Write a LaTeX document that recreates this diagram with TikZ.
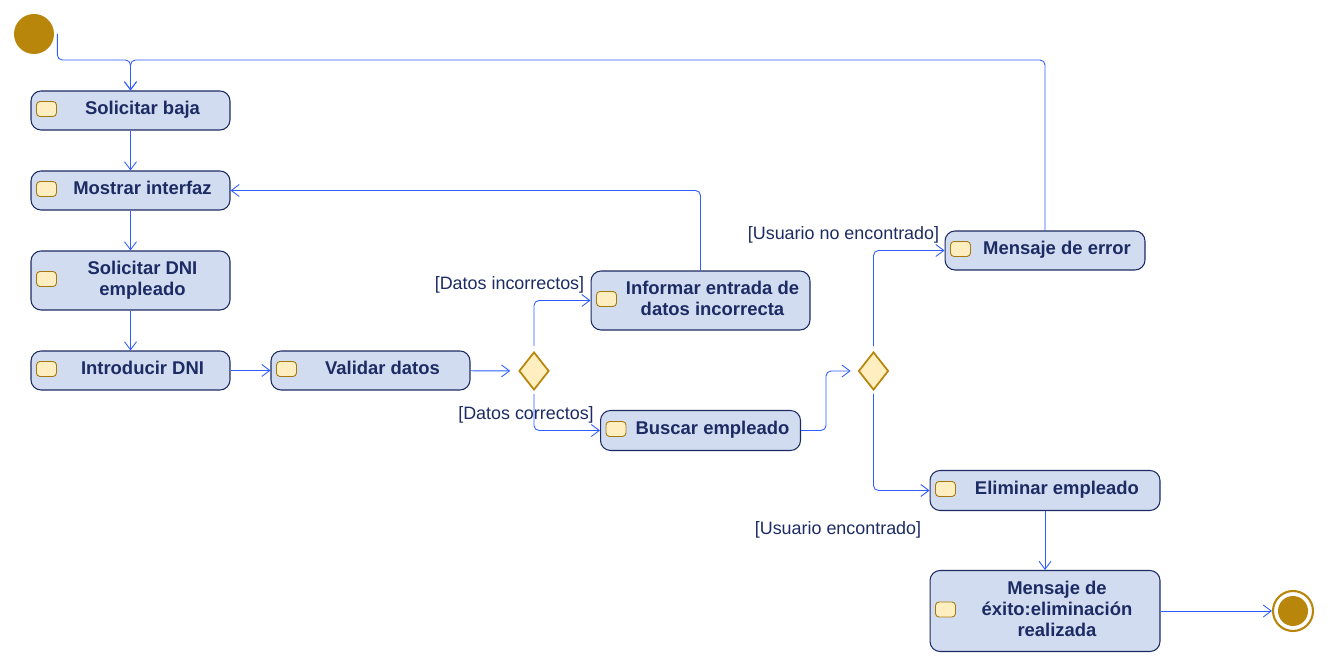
\documentclass[tikz,border=0pt]{standalone}
\usepackage{fontspec}
\setmainfont{Liberation Sans}
\usepackage{tikz}
\usetikzlibrary{positioning,arrows.meta,shapes.geometric}
\definecolor{cLine}{HTML}{2E5CFF}
\definecolor{cBox}{HTML}{D2DCF0}
\definecolor{cNavy}{HTML}{1C2B63}
\definecolor{cGold}{HTML}{B8860B}
\definecolor{cCream}{HTML}{FFEFC0}
% text of an action, moved right of its icon
\newcommand{\acttxt}[1]{\hspace*{0.48cm}\begin{tabular}{@{}c@{}}#1\end{tabular}}

\begin{document}
\begin{tikzpicture}[x=0.02cm, y=-0.02cm,
  font=\normalsize, >={Straight Barb[length=1.6mm,width=2.4mm]},
  act/.style={draw=cNavy, fill=cBox, rounded corners=0.2cm, line width=0.6pt,
              minimum width=3.98cm, minimum height=0.78cm, inner sep=1pt,
              text=cNavy, font=\fontsize{10.5}{12}\selectfont\bfseries},
  ico/.style={draw=cGold!90!black, fill=cCream, rounded corners=2pt, line width=0.5pt},
  dec/.style={diamond, draw=cGold, fill=cCream, line width=1pt, inner sep=0pt,
              minimum width=0.6cm, minimum height=0.76cm},
  ini/.style={circle, fill=cGold, minimum size=0.8cm, inner sep=0pt},
  fin/.style={circle, draw=cGold, fill=white, line width=1.2pt,
              minimum size=0.8cm, inner sep=0pt},
  flow/.style={->, draw=cLine, line width=0.5pt, rounded corners=0.1cm},
  guard/.style={text=cNavy, font=\fontsize{10.2}{12}\selectfont},
]
  \useasboundingbox (0,0) rectangle (1328,661);
  % start / end
  \node[ini] (start) at (34,34) {};
  \node[fin] (end) at (1293,611) {};
  \fill[cGold] (end.center) circle (0.3cm);
  % left column
  \node[act] (sb) at (130.5,110.5) {\acttxt{Solicitar baja}};
  \node[act] (mi) at (130.5,190.5) {\acttxt{Mostrar interfaz}};
  \node[act, minimum height=1.18cm] (sd) at (130.5,280.5) {\acttxt{Solicitar DNI\\empleado}};
  \node[act] (id) at (130.5,370.5) {\acttxt{Introducir DNI}};
  \node[act] (vd) at (370.5,370.5) {\acttxt{Validar datos}};
  % first decision
  \node[dec] (d1) at (534,371) {};
  \node[act, minimum width=4.38cm, minimum height=1.18cm] (ie) at (700.5,300.5)
    {\acttxt{Informar entrada de\\datos incorrecta}};
  \node[act, minimum width=4cm, minimum height=0.8cm] (be) at (700.5,430.5) {\acttxt{Buscar empleado}};
  % second decision
  \node[dec] (d2) at (873.5,371) {};
  \node[act, minimum width=4cm] (me) at (1045,250.5) {\acttxt{Mensaje de error}};
  \node[act, minimum width=4.6cm, minimum height=0.8cm] (ee) at (1045,490.5) {\acttxt{Eliminar empleado}};
  \node[act, minimum width=4.6cm, minimum height=1.62cm] (mx) at (1045,611)
    {\acttxt{Mensaje de\\éxito:eliminación\\realizada}};
  \foreach \n in {sb,mi,sd,id,vd,ie,be,me,ee,mx} {
    \draw[ico] ([xshift=0.12cm,yshift=-0.12cm]\n.west) rectangle ++(0.4cm,0.3cm);
  }
  % guards
  \node[guard] (gdi) at (509.5,285) {[Datos incorrectos]};
  \node[guard] (gdc) at (526,415) {[Datos correctos]};
  \node[guard] (gune) at (843.5,235) {[Usuario no encontrado]};
  \node[guard] (gue) at (838,530) {[Usuario encontrado]};
  % flow
  \coordinate (merge) at (130.5,60);
  \draw[flow] ([xshift=0.06cm]start.east) |- (merge) -- (sb);
  \draw[flow] (sb) -- (mi);
  \draw[flow] (mi) -- (sd);
  \draw[flow] (sd) -- (id);
  \draw[flow] (id) -- (vd);
  \draw[flow, shorten >=0.16cm] (vd) -- (d1);
  \draw[flow] ([yshift=0.1cm]d1.north) |- (ie.west);
  \draw[flow] ([yshift=-0.06cm]d1.south) |- (be.west);
  \draw[flow] (ie.north) |- (mi.east);
  \draw[flow, shorten >=0.14cm] (be.east) -- ++(25,0) |- (d2.west);
  \draw[flow] ([yshift=0.1cm]d2.north) |- (me.west);
  \draw[flow] ([yshift=-0.06cm]d2.south) |- (ee.west);
  \draw[flow] (me.north) |- (merge) -- (sb);
  \draw[flow] (ee) -- (mx);
  \draw[flow] (mx) -- (end);
\end{tikzpicture}
\end{document}
